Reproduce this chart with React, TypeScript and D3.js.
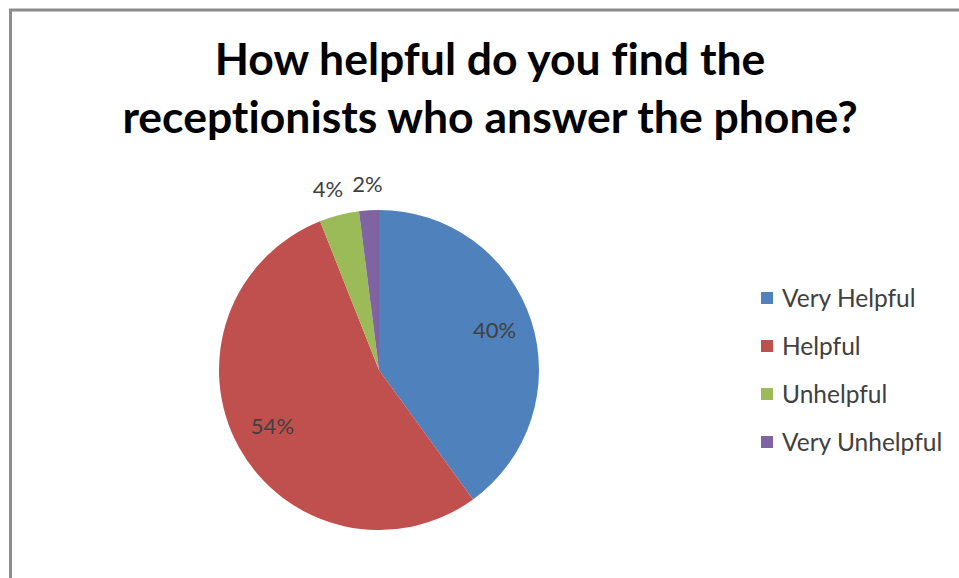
import { useEffect, useRef } from 'react';
import * as d3 from 'd3';

const categories = ['Very Helpful', 'Helpful', 'Unhelpful', 'Very Unhelpful'];
const values = [40, 54, 4, 2];
const colors = ['#4F81BD', '#C0504D', '#9BBB59', '#8064A2'];
const titleLines = ['How helpful do you find the', 'receptionists who answer the phone?'];

const WIDTH = 959;
const HEIGHT = 578;
const FONT = 'Lato, "Open Sans", sans-serif';

export default function App() {
  const svgRef = useRef<SVGSVGElement>(null);

  useEffect(() => {
    if (!svgRef.current) return;
    const svg = d3.select(svgRef.current);
    svg.selectAll('*').remove();

    svg.append('rect').attr('width', WIDTH).attr('height', HEIGHT).attr('fill', '#ffffff');

    // frame (only top and left edges fall inside the picture)
    svg
      .append('path')
      .attr('d', `M10.5,${HEIGHT} V10 H${WIDTH}`)
      .attr('fill', 'none')
      .attr('stroke', '#8c8c8c')
      .attr('stroke-width', 3);

    // Title
    titleLines.forEach((line, i) => {
      svg
        .append('text')
        .attr('x', 490)
        .attr('y', 75 + i * 58)
        .attr('text-anchor', 'middle')
        .attr('font-family', FONT)
        .attr('font-size', '44.5px')
        .attr('font-weight', 700)
        .style('font-variant-ligatures', 'none')
        .attr('fill', '#000000')
        .text(line);
    });

    const cx = 379;
    const cy = 370;
    const radius = 160;

    const data = categories.map((c, i) => ({ label: c, value: values[i], color: colors[i] }));
    const pie = d3
      .pie<{ label: string; value: number; color: string }>()
      .sort(null)
      .value(d => d.value);
    const arcs = pie(data);
    const arc = d3.arc<any>().innerRadius(0).outerRadius(radius);

    const g = svg.append('g').attr('transform', `translate(${cx},${cy})`);
    g.selectAll('path.slice')
      .data(arcs)
      .enter()
      .append('path')
      .attr('class', 'slice')
      .attr('d', arc)
      .attr('fill', d => d.data.color);

    // Data labels: inside for big slices, outside for small ones
    const inner = d3.arc<any>().innerRadius(radius * 0.76).outerRadius(radius * 0.76);
    const outer = d3.arc<any>().innerRadius(radius * 1.15).outerRadius(radius * 1.15);
    const labels = g
      .selectAll('text.lbl')
      .data(arcs)
      .enter()
      .append('text')
      .attr('class', 'lbl')
      .attr('text-anchor', 'middle')
      .attr('dominant-baseline', 'middle')
      .attr('font-family', FONT)
      .attr('font-size', '22px')
      .attr('fill', '#404040')
      .text(d => `${d.data.value}%`);

    const pos = arcs.map(d => (d.data.value >= 10 ? inner.centroid(d) : outer.centroid(d)));
    const widths: number[] = [];
    labels.each(function () {
      widths.push((this as SVGTextElement).getComputedTextLength());
    });
    // keep the outside labels from touching: push the left one further left
    const outside = arcs
      .map((d, i) => i)
      .filter(i => arcs[i].data.value < 10)
      .sort((a, b) => pos[b][0] - pos[a][0]);
    for (let k = 1; k < outside.length; k++) {
      const right = outside[k - 1];
      const left = outside[k];
      const maxX = pos[right][0] - widths[right] / 2 - 9 - widths[left] / 2;
      if (pos[left][0] > maxX) pos[left][0] = maxX;
    }
    labels.attr('transform', (_d, i) => `translate(${pos[i][0]},${pos[i][1]})`);

    // Legend
    const legend = svg.append('g').attr('transform', 'translate(761, 298)');
    const items = legend
      .selectAll('g')
      .data(data)
      .enter()
      .append('g')
      .attr('transform', (_d, i) => `translate(0, ${i * 48})`);
    items
      .append('rect')
      .attr('y', -6)
      .attr('width', 12)
      .attr('height', 12)
      .attr('fill', d => d.color);
    items
      .append('text')
      .attr('x', 21)
      .attr('dy', '0.36em')
      .attr('font-family', FONT)
      .attr('font-size', '24.5px')
      .attr('fill', '#404040')
      .text(d => d.label);
  }, []);

  return (
    <svg
      ref={svgRef}
      width={WIDTH}
      height={HEIGHT}
      style={{ position: 'absolute', left: 0, top: 0, display: 'block' }}
    />
  );
}
